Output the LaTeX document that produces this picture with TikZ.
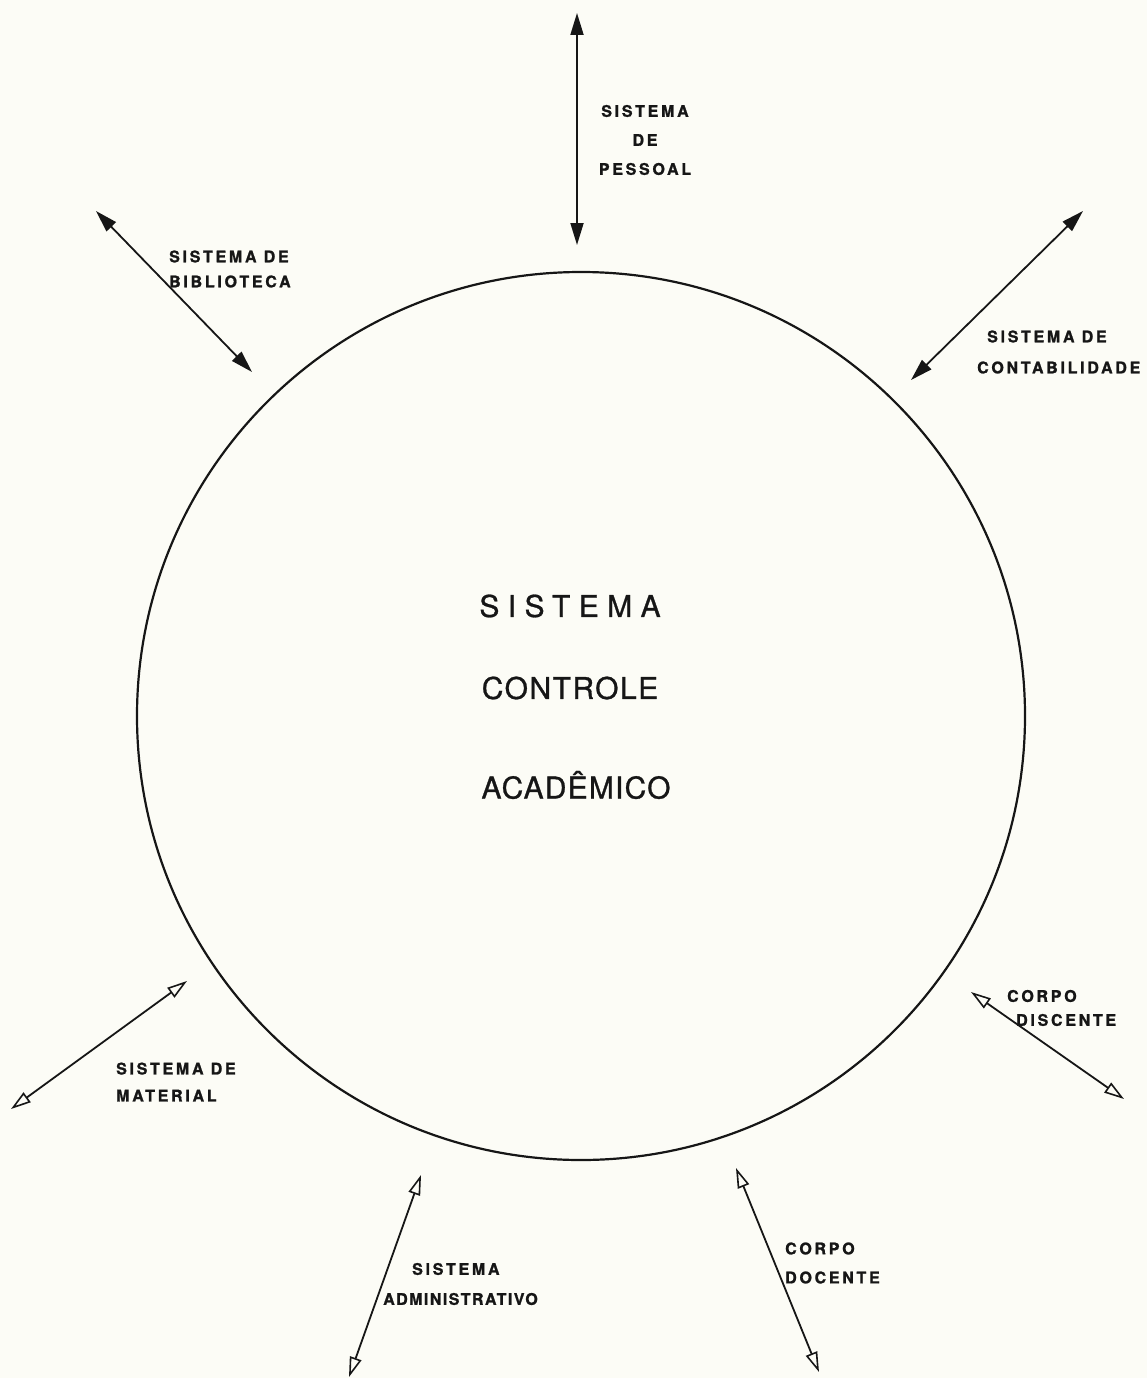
\documentclass[tikz,border=0pt]{standalone}
\usepackage{fontspec}
\setmainfont{TeX Gyre Heros}
\usetikzlibrary{arrows.meta}
\definecolor{paper}{RGB}{252,252,246}
\definecolor{ink}{RGB}{22,22,22}
\newfontfamily\labfont[LetterSpace=17,FakeBold=1.2]{TeX Gyre Heros}
\newfontfamily\tightlabfont[LetterSpace=9,FakeBold=1.2]{TeX Gyre Heros}
\newfontfamily\corefont[FakeBold=0.9]{TeX Gyre Heros}
\begin{document}
\begin{tikzpicture}[x=1pt,y=-1pt,
  link/.style={draw=ink,line width=1.8pt},
  solidlink/.style={link,{Triangle[length=22pt,width=13pt]}-{Triangle[length=22pt,width=13pt]}},
  openlink/.style={link,{Triangle[open,length=20pt,width=12pt,line width=1.6pt]}-{Triangle[open,length=20pt,width=12pt,line width=1.6pt]}},
  lab/.style={inner sep=0pt,align=left,text=ink,font=\labfont\bfseries\fontsize{16}{27}\selectfont},
  core/.style={inner sep=0pt,text=ink}]
  % paper
  \fill[paper] (0,0) rectangle (1147,1378);
  \useasboundingbox (0,0) rectangle (1147,1378);

  % central system
  \node[draw=ink,line width=2.2pt,circle,minimum size=888pt,inner sep=0pt] (sca) at (581,716) {};
  \node[core,font=\corefont\addfontfeature{LetterSpace=28}\fontsize{30}{30}\selectfont] (t1) at (570,606) {SISTEMA};
  \node[core,font=\corefont\addfontfeature{LetterSpace=5}\fontsize{30}{30}\selectfont] (t2) at (570,688) {CONTROLE};
  \node[core,font=\corefont\addfontfeature{LetterSpace=4}\fontsize{30}{30}\selectfont] (t3) at (576,785) {ACADÊMICO};

  % end points of the exchanges
  \coordinate (p1) at (577,13);   \coordinate (p2) at (577,245);
  \coordinate (b1) at (96,211);   \coordinate (b2) at (252,372);
  \coordinate (c1) at (1083,211); \coordinate (c2) at (911,380);
  \coordinate (m1) at (187,981);  \coordinate (m2) at (11,1109);
  \coordinate (d1) at (971,992);  \coordinate (d2) at (1124,1099);
  \coordinate (a1) at (421,1175); \coordinate (a2) at (349,1377);
  \coordinate (o1) at (736,1168); \coordinate (o2) at (819,1372);

  % exchanges with the other systems
  \draw[solidlink] (p1) -- (p2);
  \draw[solidlink] (b1) -- (b2);
  \draw[solidlink] (c1) -- (c2);
  \draw[openlink] (m1) -- (m2);
  \draw[openlink] (d1) -- (d2);
  \draw[openlink] (a1) -- (a2);
  \draw[openlink] (o1) -- (o2);

  % labels
  \node[lab,align=center,anchor=center,font=\labfont\bfseries\fontsize{16}{29}\selectfont] (lp) at (645,140) {SISTEMA\\DE\\PESSOAL};
  \node[lab,anchor=west,font=\labfont\bfseries\fontsize{16}{25}\selectfont] (lb) at (169,269) {SISTEMA DE\\BIBLIOTECA};
  \node[lab,anchor=west,font=\labfont\bfseries\fontsize{16}{31}\selectfont] (lc) at (977,352) {\hspace*{10pt}SISTEMA DE\\CONTABILIDADE};
  \node[lab,anchor=west] (lm) at (116,1082) {SISTEMA DE\\MATERIAL};
  \node[lab,anchor=west,font=\labfont\bfseries\fontsize{16}{24}\selectfont] (ld) at (1007,1008) {CORPO\\\hspace*{9pt}DISCENTE};
  \node[lab,anchor=west,font=\labfont\bfseries\fontsize{16}{30}\selectfont] (la) at (383,1284) {\hspace*{29pt}SISTEMA\\{\tightlabfont\bfseries ADMINISTRATIVO}};
  \node[lab,anchor=west,font=\labfont\bfseries\fontsize{16}{29}\selectfont] (lo) at (785,1263) {CORPO\\DOCENTE};
\end{tikzpicture}
\end{document}
